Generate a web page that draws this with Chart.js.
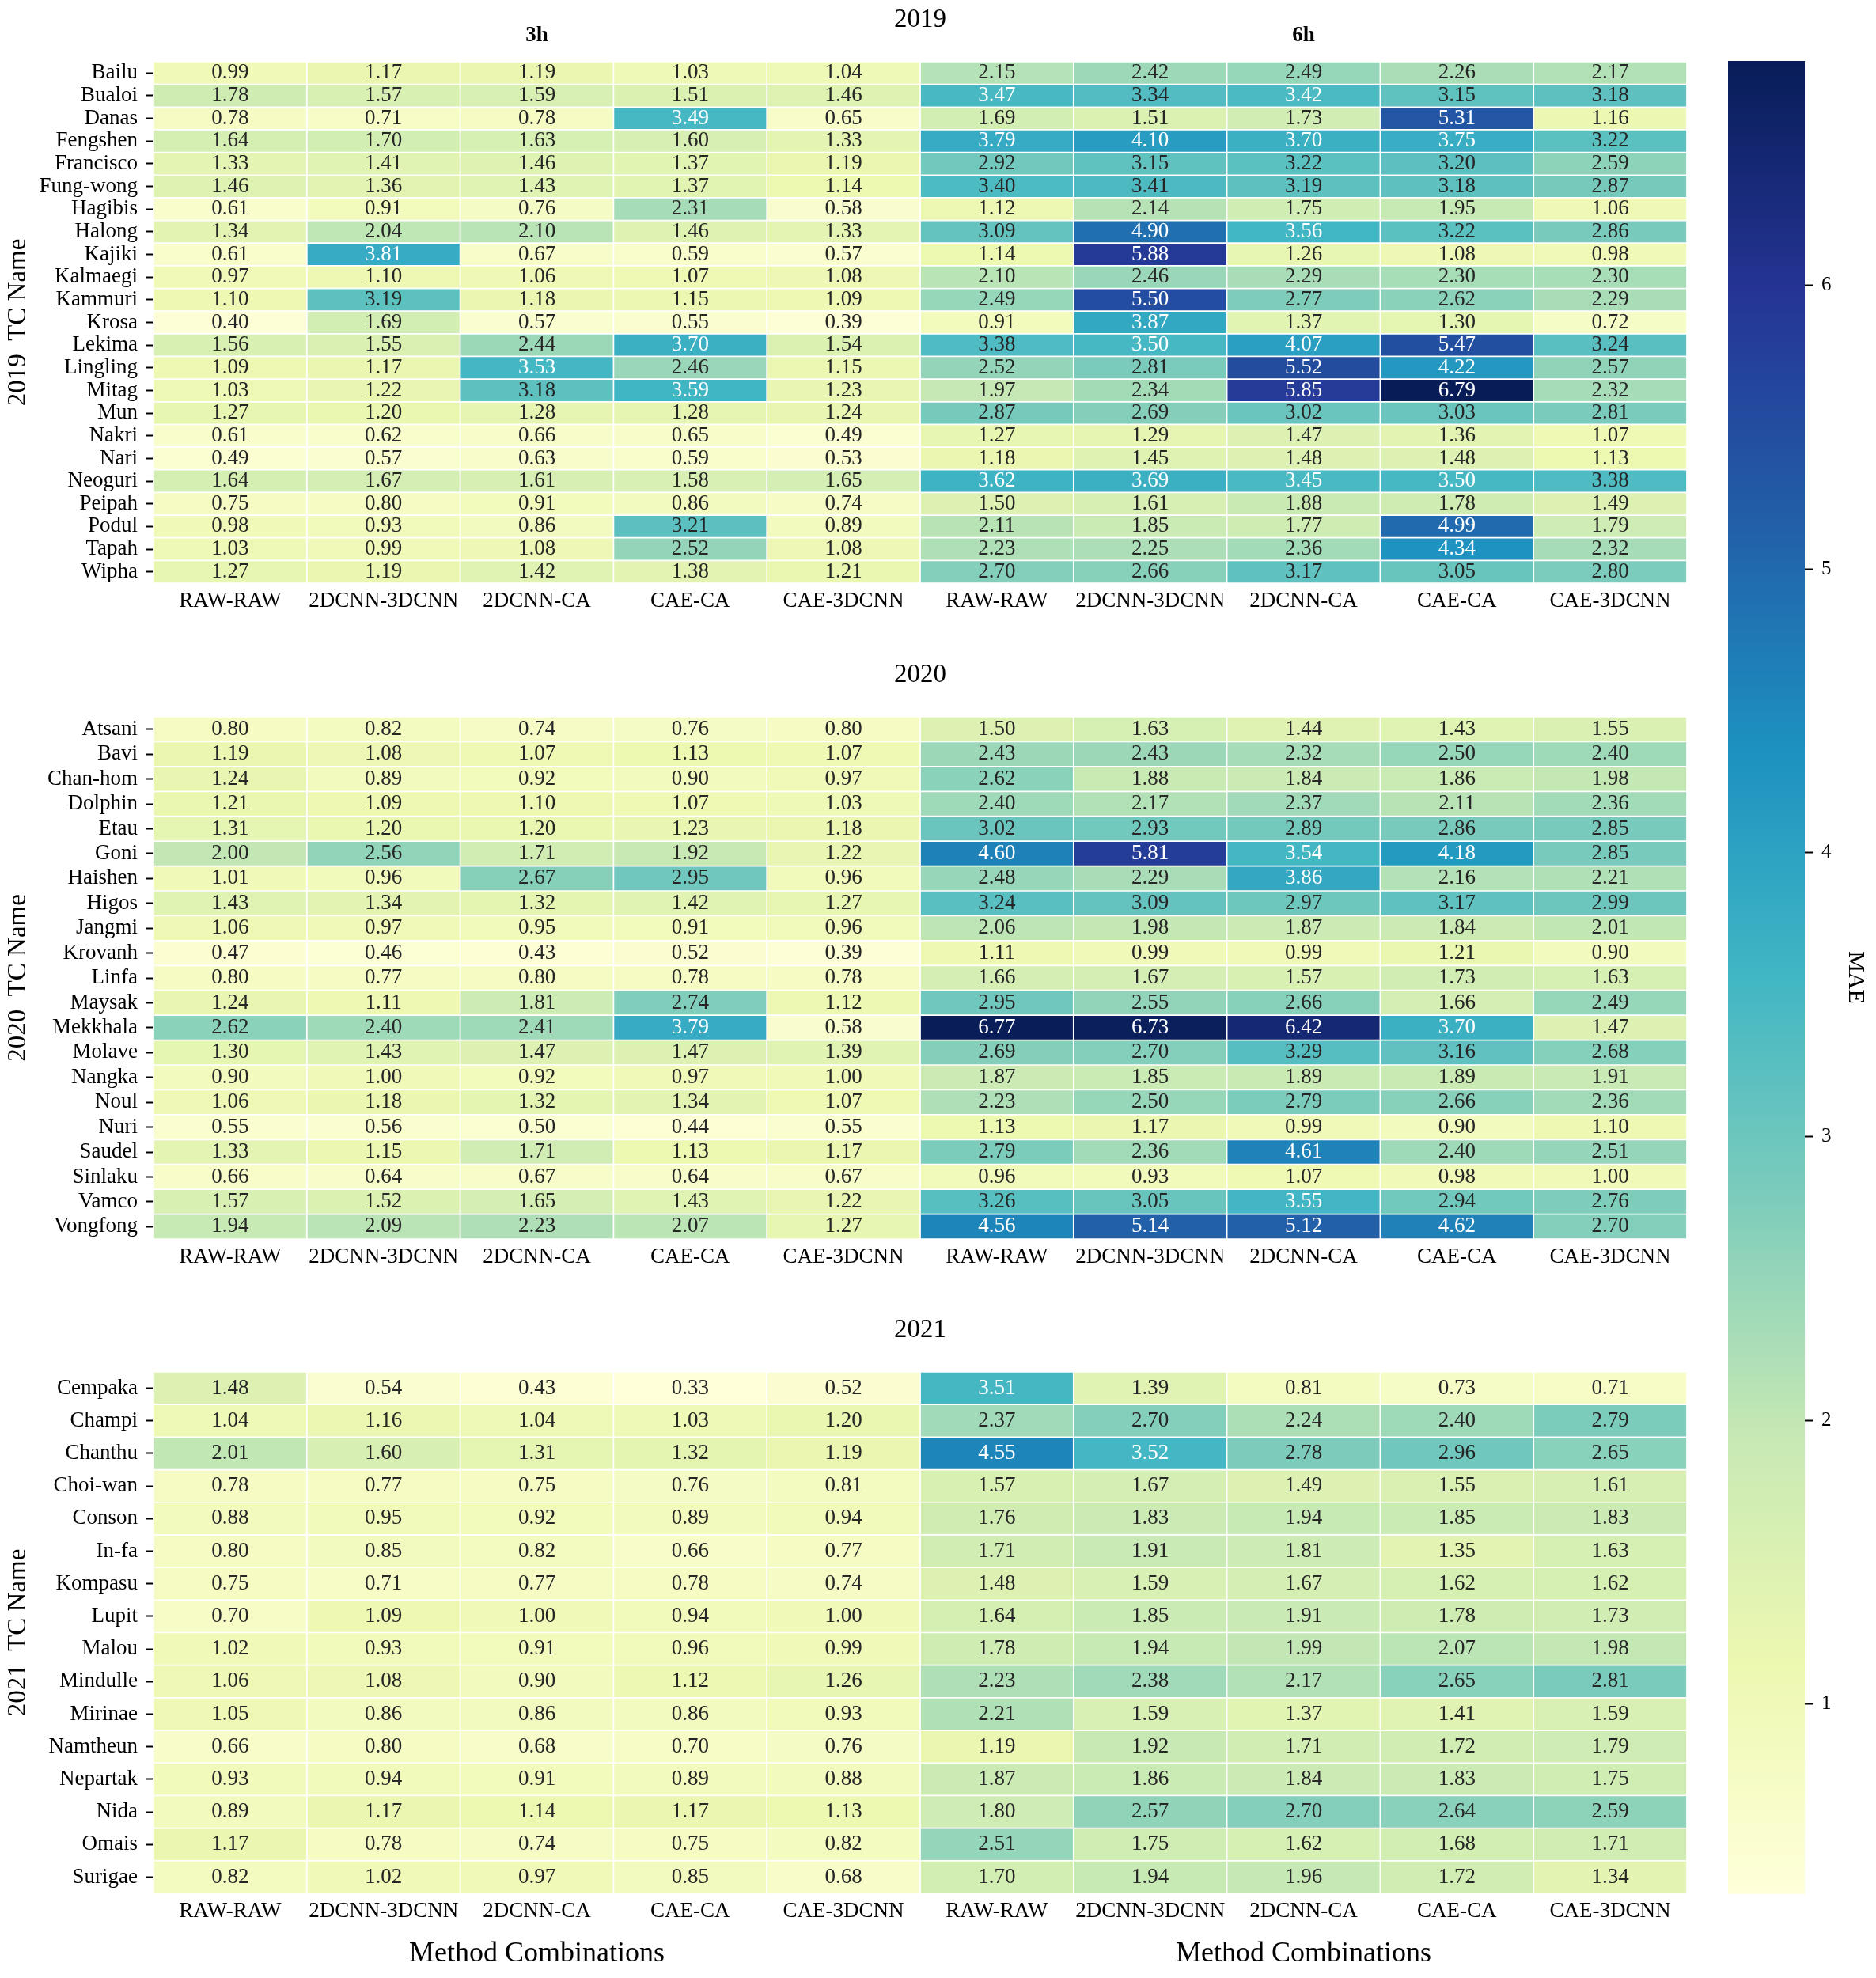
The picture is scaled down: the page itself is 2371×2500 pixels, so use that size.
<!DOCTYPE html>
<html>
<head>
<meta charset="utf-8">
<script src="https://cdn.jsdelivr.net/npm/chart.js@4.4.1/dist/chart.umd.min.js"></script>
<style>
  html, body { margin: 0; padding: 0; background: #fff; }
  body { width: 2371px; height: 2500px; position: relative; overflow: hidden; }
  canvas { position: absolute; }
</style>
</head>
<body>
<canvas id="p2019"></canvas>
<canvas id="p2020"></canvas>
<canvas id="p2021"></canvas>
<canvas id="cbar"></canvas>
<script>
// columns: first five are 3h, last five are 6h
const methods = ['RAW-RAW', '2DCNN-3DCNN', '2DCNN-CA', 'CAE-CA', 'CAE-3DCNN',
                 'RAW-RAW', '2DCNN-3DCNN', '2DCNN-CA', 'CAE-CA', 'CAE-3DCNN'];
const horizons = ['3h', '6h'];
const colorTicks = [1, 2, 3, 4, 5, 6];

const names2019 = ['Bailu', 'Bualoi', 'Danas', 'Fengshen', 'Francisco', 'Fung-wong', 'Hagibis', 'Halong',
  'Kajiki', 'Kalmaegi', 'Kammuri', 'Krosa', 'Lekima', 'Lingling', 'Mitag', 'Mun', 'Nakri', 'Nari',
  'Neoguri', 'Peipah', 'Podul', 'Tapah', 'Wipha'];
const mae2019 = [
  [0.99, 1.17, 1.19, 1.03, 1.04, 2.15, 2.42, 2.49, 2.26, 2.17],
  [1.78, 1.57, 1.59, 1.51, 1.46, 3.47, 3.34, 3.42, 3.15, 3.18],
  [0.78, 0.71, 0.78, 3.49, 0.65, 1.69, 1.51, 1.73, 5.31, 1.16],
  [1.64, 1.70, 1.63, 1.60, 1.33, 3.79, 4.10, 3.70, 3.75, 3.22],
  [1.33, 1.41, 1.46, 1.37, 1.19, 2.92, 3.15, 3.22, 3.20, 2.59],
  [1.46, 1.36, 1.43, 1.37, 1.14, 3.40, 3.41, 3.19, 3.18, 2.87],
  [0.61, 0.91, 0.76, 2.31, 0.58, 1.12, 2.14, 1.75, 1.95, 1.06],
  [1.34, 2.04, 2.10, 1.46, 1.33, 3.09, 4.90, 3.56, 3.22, 2.86],
  [0.61, 3.81, 0.67, 0.59, 0.57, 1.14, 5.88, 1.26, 1.08, 0.98],
  [0.97, 1.10, 1.06, 1.07, 1.08, 2.10, 2.46, 2.29, 2.30, 2.30],
  [1.10, 3.19, 1.18, 1.15, 1.09, 2.49, 5.50, 2.77, 2.62, 2.29],
  [0.40, 1.69, 0.57, 0.55, 0.39, 0.91, 3.87, 1.37, 1.30, 0.72],
  [1.56, 1.55, 2.44, 3.70, 1.54, 3.38, 3.50, 4.07, 5.47, 3.24],
  [1.09, 1.17, 3.53, 2.46, 1.15, 2.52, 2.81, 5.52, 4.22, 2.57],
  [1.03, 1.22, 3.18, 3.59, 1.23, 1.97, 2.34, 5.85, 6.79, 2.32],
  [1.27, 1.20, 1.28, 1.28, 1.24, 2.87, 2.69, 3.02, 3.03, 2.81],
  [0.61, 0.62, 0.66, 0.65, 0.49, 1.27, 1.29, 1.47, 1.36, 1.07],
  [0.49, 0.57, 0.63, 0.59, 0.53, 1.18, 1.45, 1.48, 1.48, 1.13],
  [1.64, 1.67, 1.61, 1.58, 1.65, 3.62, 3.69, 3.45, 3.50, 3.38],
  [0.75, 0.80, 0.91, 0.86, 0.74, 1.50, 1.61, 1.88, 1.78, 1.49],
  [0.98, 0.93, 0.86, 3.21, 0.89, 2.11, 1.85, 1.77, 4.99, 1.79],
  [1.03, 0.99, 1.08, 2.52, 1.08, 2.23, 2.25, 2.36, 4.34, 2.32],
  [1.27, 1.19, 1.42, 1.38, 1.21, 2.70, 2.66, 3.17, 3.05, 2.80]
];

const names2020 = ['Atsani', 'Bavi', 'Chan-hom', 'Dolphin', 'Etau', 'Goni', 'Haishen', 'Higos', 'Jangmi',
  'Krovanh', 'Linfa', 'Maysak', 'Mekkhala', 'Molave', 'Nangka', 'Noul', 'Nuri', 'Saudel', 'Sinlaku',
  'Vamco', 'Vongfong'];
const mae2020 = [
  [0.80, 0.82, 0.74, 0.76, 0.80, 1.50, 1.63, 1.44, 1.43, 1.55],
  [1.19, 1.08, 1.07, 1.13, 1.07, 2.43, 2.43, 2.32, 2.50, 2.40],
  [1.24, 0.89, 0.92, 0.90, 0.97, 2.62, 1.88, 1.84, 1.86, 1.98],
  [1.21, 1.09, 1.10, 1.07, 1.03, 2.40, 2.17, 2.37, 2.11, 2.36],
  [1.31, 1.20, 1.20, 1.23, 1.18, 3.02, 2.93, 2.89, 2.86, 2.85],
  [2.00, 2.56, 1.71, 1.92, 1.22, 4.60, 5.81, 3.54, 4.18, 2.85],
  [1.01, 0.96, 2.67, 2.95, 0.96, 2.48, 2.29, 3.86, 2.16, 2.21],
  [1.43, 1.34, 1.32, 1.42, 1.27, 3.24, 3.09, 2.97, 3.17, 2.99],
  [1.06, 0.97, 0.95, 0.91, 0.96, 2.06, 1.98, 1.87, 1.84, 2.01],
  [0.47, 0.46, 0.43, 0.52, 0.39, 1.11, 0.99, 0.99, 1.21, 0.90],
  [0.80, 0.77, 0.80, 0.78, 0.78, 1.66, 1.67, 1.57, 1.73, 1.63],
  [1.24, 1.11, 1.81, 2.74, 1.12, 2.95, 2.55, 2.66, 1.66, 2.49],
  [2.62, 2.40, 2.41, 3.79, 0.58, 6.77, 6.73, 6.42, 3.70, 1.47],
  [1.30, 1.43, 1.47, 1.47, 1.39, 2.69, 2.70, 3.29, 3.16, 2.68],
  [0.90, 1.00, 0.92, 0.97, 1.00, 1.87, 1.85, 1.89, 1.89, 1.91],
  [1.06, 1.18, 1.32, 1.34, 1.07, 2.23, 2.50, 2.79, 2.66, 2.36],
  [0.55, 0.56, 0.50, 0.44, 0.55, 1.13, 1.17, 0.99, 0.90, 1.10],
  [1.33, 1.15, 1.71, 1.13, 1.17, 2.79, 2.36, 4.61, 2.40, 2.51],
  [0.66, 0.64, 0.67, 0.64, 0.67, 0.96, 0.93, 1.07, 0.98, 1.00],
  [1.57, 1.52, 1.65, 1.43, 1.22, 3.26, 3.05, 3.55, 2.94, 2.76],
  [1.94, 2.09, 2.23, 2.07, 1.27, 4.56, 5.14, 5.12, 4.62, 2.70]
];

const names2021 = ['Cempaka', 'Champi', 'Chanthu', 'Choi-wan', 'Conson', 'In-fa', 'Kompasu', 'Lupit',
  'Malou', 'Mindulle', 'Mirinae', 'Namtheun', 'Nepartak', 'Nida', 'Omais', 'Surigae'];
const mae2021 = [
  [1.48, 0.54, 0.43, 0.33, 0.52, 3.51, 1.39, 0.81, 0.73, 0.71],
  [1.04, 1.16, 1.04, 1.03, 1.20, 2.37, 2.70, 2.24, 2.40, 2.79],
  [2.01, 1.60, 1.31, 1.32, 1.19, 4.55, 3.52, 2.78, 2.96, 2.65],
  [0.78, 0.77, 0.75, 0.76, 0.81, 1.57, 1.67, 1.49, 1.55, 1.61],
  [0.88, 0.95, 0.92, 0.89, 0.94, 1.76, 1.83, 1.94, 1.85, 1.83],
  [0.80, 0.85, 0.82, 0.66, 0.77, 1.71, 1.91, 1.81, 1.35, 1.63],
  [0.75, 0.71, 0.77, 0.78, 0.74, 1.48, 1.59, 1.67, 1.62, 1.62],
  [0.70, 1.09, 1.00, 0.94, 1.00, 1.64, 1.85, 1.91, 1.78, 1.73],
  [1.02, 0.93, 0.91, 0.96, 0.99, 1.78, 1.94, 1.99, 2.07, 1.98],
  [1.06, 1.08, 0.90, 1.12, 1.26, 2.23, 2.38, 2.17, 2.65, 2.81],
  [1.05, 0.86, 0.86, 0.86, 0.93, 2.21, 1.59, 1.37, 1.41, 1.59],
  [0.66, 0.80, 0.68, 0.70, 0.76, 1.19, 1.92, 1.71, 1.72, 1.79],
  [0.93, 0.94, 0.91, 0.89, 0.88, 1.87, 1.86, 1.84, 1.83, 1.75],
  [0.89, 1.17, 1.14, 1.17, 1.13, 1.80, 2.57, 2.70, 2.64, 2.59],
  [1.17, 0.78, 0.74, 0.75, 0.82, 2.51, 1.75, 1.62, 1.68, 1.71],
  [0.82, 1.02, 0.97, 0.85, 0.68, 1.70, 1.94, 1.96, 1.72, 1.34]
];

const FONT = "'Liberation Serif', 'Times New Roman', serif";

// YlGnBu
const YLGNBU = ['#ffffd9', '#edf8b1', '#c7e9b4', '#7fcdbb', '#41b6c4', '#1d91c0', '#225ea8', '#253494', '#081d58'];
function hexRgb(h) {
  return [parseInt(h.slice(1, 3), 16), parseInt(h.slice(3, 5), 16), parseInt(h.slice(5, 7), 16)];
}
function cmap(t) {
  t = Math.min(1, Math.max(0, t));
  const s = t * 8;
  const k = Math.min(7, Math.floor(s));
  const f = s - k;
  const a = hexRgb(YLGNBU[k]), b = hexRgb(YLGNBU[k + 1]);
  const c = a.map((v, i) => Math.round(v + (b[i] - v) * f));
  return 'rgb(' + c.join(',') + ')';
}

const allVals = [].concat(...mae2019, ...mae2020, ...mae2021);
const vmin = Math.min(...allVals);
const vmax = Math.max(...allVals);
const colorOf = v => cmap((v - vmin) / (vmax - vmin));

// draws the numbers in the cells and the extra headings
const cellText = {
  id: 'cellText',
  afterDatasetsDraw(chart, args, opts) {
    const ctx = chart.ctx;
    const xs = chart.scales.x;
    const area = chart.chartArea;
    ctx.save();
    ctx.textAlign = 'center';
    ctx.textBaseline = 'middle';
    ctx.font = '27px ' + FONT;
    chart.data.datasets.forEach((ds, j) => {
      chart.getDatasetMeta(j).data.forEach((bar, i) => {
        const v = opts.values[i][j];
        const c = bar.getCenterPoint();
        ctx.fillStyle = v >= 3.415 ? '#ffffff' : '#262626';
        ctx.fillText(v.toFixed(2), c.x, c.y);
      });
    });
    ctx.fillStyle = '#000';
    ctx.font = '33px ' + FONT;
    ctx.fillText(opts.year, xs.getPixelForValue(5), area.top - 53);
    if (opts.horizons) {
      ctx.font = 'bold 27px ' + FONT;
      horizons.forEach((h, k) => ctx.fillText(h, xs.getPixelForValue(2.5 + 5 * k), area.top - 33));
    }
    if (opts.xTitle) {
      ctx.font = '36px ' + FONT;
      horizons.forEach((h, k) => ctx.fillText('Method Combinations', xs.getPixelForValue(2.5 + 5 * k), area.bottom + 77));
    }
    ctx.restore();
  }
};

const panels = [
  { id: 'p2019', year: '2019', names: names2019, values: mae2019, top: 78, bottom: 737 },
  { id: 'p2020', year: '2020', names: names2020, values: mae2020, top: 906, bottom: 1566 },
  { id: 'p2021', year: '2021', names: names2021, values: mae2021, top: 1734, bottom: 2393 }
];

const padTop = 78, bottomH = 110, axisW = 194, plotRight = 2132;

panels.forEach((p, idx) => {
  const canvas = document.getElementById(p.id);
  const w = plotRight + 8;
  const h = (p.bottom - p.top) + padTop + bottomH;
  canvas.width = w;
  canvas.height = h;
  canvas.style.left = '0px';
  canvas.style.top = (p.top - padTop) + 'px';
  canvas.style.width = w + 'px';
  canvas.style.height = h + 'px';

  const datasets = methods.map((m, j) => ({
    label: m,
    data: p.names.map(() => [j, j + 1]),
    backgroundColor: p.values.map(r => colorOf(r[j])),
    borderColor: '#ffffff',
    borderWidth: 1.2,
    borderSkipped: false,
    grouped: false,
    barPercentage: 1,
    categoryPercentage: 1
  }));

  new Chart(canvas, {
    type: 'bar',
    data: { labels: p.names, datasets: datasets },
    plugins: [cellText],
    options: {
      indexAxis: 'y',
      responsive: false,
      animation: false,
      devicePixelRatio: 1,
      layout: { padding: { top: padTop, right: 8, left: 0, bottom: 0 } },
      plugins: {
        legend: { display: false },
        tooltip: { enabled: false },
        cellText: { values: p.values, year: p.year, horizons: idx === 0, xTitle: idx === panels.length - 1 }
      },
      scales: {
        x: {
          type: 'linear', min: 0, max: 10, position: 'bottom',
          grid: { display: false, drawTicks: false },
          border: { display: false },
          afterBuildTicks: ax => { ax.ticks = methods.map((m, i) => ({ value: i + 0.5 })); },
          afterFit: ax => { ax.height = bottomH; },
          ticks: {
            autoSkip: false, maxRotation: 0, padding: 7, color: '#000',
            font: { family: FONT, size: 27 },
            callback: v => methods[Math.floor(v)]
          }
        },
        y: {
          type: 'category', position: 'left', offset: true,
          grid: { display: true, offset: false, drawOnChartArea: false, drawTicks: true, tickLength: 10, tickWidth: 2, tickColor: '#000' },
          border: { display: false },
          afterFit: ax => { ax.width = axisW; },
          ticks: { autoSkip: false, padding: 10, color: '#000', font: { family: FONT, size: 27 } },
          title: { display: true, text: p.year + '  TC Name', color: '#000', font: { family: FONT, size: 33 }, padding: { top: 4, bottom: 0 } }
        }
      }
    }
  });
});

// colour bar
const cb = document.getElementById('cbar');
cb.width = 221; cb.height = 2500;
cb.style.left = '2150px'; cb.style.top = '0px';
cb.style.width = '221px'; cb.style.height = '2500px';

new Chart(cb, {
  type: 'bar',
  data: {
    labels: ['MAE'],
    datasets: [{
      data: [[vmin, vmax]],
      backgroundColor: ctx => {
        const ch = ctx.chart;
        if (!ch.chartArea) return null;
        const ys = ch.scales.y;
        const g = ch.ctx.createLinearGradient(0, ys.getPixelForValue(vmin), 0, ys.getPixelForValue(vmax));
        YLGNBU.forEach((c, k) => g.addColorStop(k / 8, c));
        return g;
      },
      borderWidth: 0,
      barPercentage: 1,
      categoryPercentage: 1
    }]
  },
  options: {
    responsive: false,
    animation: false,
    devicePixelRatio: 1,
    layout: { padding: { left: 34, top: 77, bottom: 106, right: 0 } },
    plugins: { legend: { display: false }, tooltip: { enabled: false } },
    scales: {
      x: { display: false },
      y: {
        type: 'linear', position: 'right', min: vmin, max: vmax,
        afterBuildTicks: ax => { ax.ticks = colorTicks.map(v => ({ value: v })); },
        afterFit: ax => { ax.width = 90; },
        grid: { display: true, drawOnChartArea: false, drawTicks: true, tickLength: 11, tickWidth: 2, tickColor: '#000' },
        border: { display: false },
        ticks: { padding: 10, color: '#000', font: { family: FONT, size: 25 } },
        title: { display: true, text: 'MAE', color: '#000', font: { family: FONT, size: 30 }, padding: { top: 8 } }
      }
    }
  }
});
</script>
</body>
</html>
